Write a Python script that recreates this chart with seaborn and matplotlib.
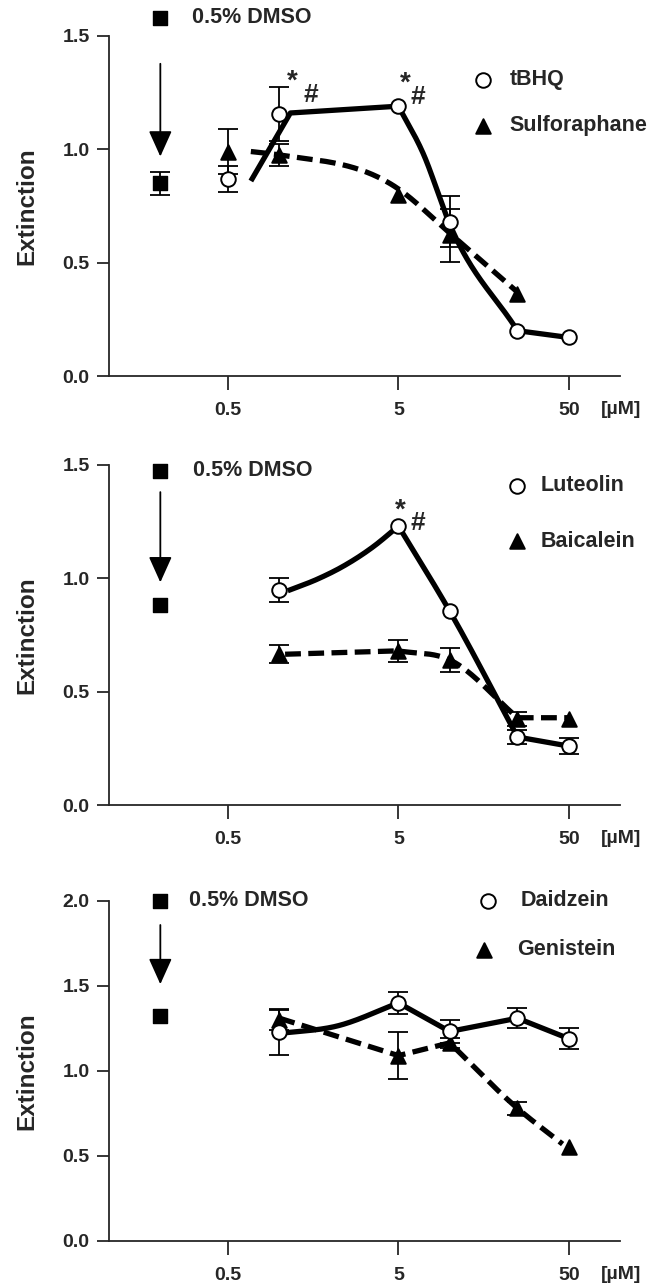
import numpy as np
import pandas as pd
import matplotlib
matplotlib.use("Agg")
import matplotlib.pyplot as plt
import seaborn as sns

# ---------------- data ----------------
conc = [0.5, 1, 5, 10, 25, 50]           # µM
conc5 = [1, 5, 10, 25, 50]
dmso_x = 0.2                             # position of the DMSO control

# panel 1
p1_dmso, p1_dmso_err = 0.85, 0.05
tbhq = [0.87, 1.155, 1.19, 0.68, 0.20, 0.17]
tbhq_err = [0.057, 0.12, 0.0, 0.112, 0.0, 0.0]
sulf_x = [0.5, 1, 5, 10, 25]
sulf = [0.99, 0.975, 0.80, 0.62, 0.36]
sulf_err = [0.10, 0.05, 0.0, 0.117, 0.0]
# fitted curves (knots)
tbhq_fit_x = [0.68, 1.16, 5, 7, 10, 25, 50]
tbhq_fit_y = [0.86, 1.16, 1.19, 0.98, 0.67, 0.20, 0.17]
tbhq_fit_breaks = [1, 2, 5]
sulf_fit_x = [0.68, 1, 5, 10, 25]
sulf_fit_y = [0.99, 0.975, 0.825, 0.63, 0.37]
sulf_fit_breaks = []

# panel 2
p2_dmso, p2_dmso_err = 0.88, 0.0
lut = [0.95, 1.23, 0.855, 0.30, 0.26]
lut_err = [0.053, 0.0, 0.0, 0.03, 0.034]
bai = [0.665, 0.68, 0.64, 0.38, 0.38]
bai_err = [0.04, 0.048, 0.052, 0.03, 0.0]
lut_fit_x = [1.12, 1.67, 2.37, 3.57, 5, 10, 25, 50]
lut_fit_y = [0.945, 0.996, 1.053, 1.14, 1.23, 0.855, 0.30, 0.26]
lut_fit_breaks = [4, 6]
bai_fit_x = [1.08, 5, 10, 25, 50]
bai_fit_y = [0.665, 0.68, 0.64, 0.385, 0.385]
bai_fit_breaks = [1, 3]

# panel 3
p3_dmso, p3_dmso_err = 1.324, 0.0
dai = [1.23, 1.40, 1.232, 1.31, 1.19]
dai_err = [0.135, 0.065, 0.07, 0.06, 0.06]
gen = [1.30, 1.09, 1.165, 0.78, 0.55]
gen_err = [0.06, 0.14, 0.03, 0.04, 0.0]
dai_fit_x = [1, 2.2, 5, 10, 25, 50]
dai_fit_y = [1.22, 1.265, 1.40, 1.232, 1.31, 1.19]
dai_fit_breaks = [2, 3, 4]
gen_fit_x = [1, 5, 10, 25, 46]
gen_fit_y = [1.31, 1.09, 1.165, 0.78, 0.57]
gen_fit_breaks = [1, 2]

xtick_vals = [0.5, 5, 50]
xtick_labels = ["0.5", "5", "50"]

# ---------------- helpers ----------------
def smooth(xk, yk, breaks, n=60):
    """Piecewise cubic Hermite through the knots (log-x), split at cusps."""
    lx = np.log10(np.asarray(xk, float))
    y = np.asarray(yk, float)
    idx = [0] + list(breaks) + [len(lx) - 1]
    outx, outy = [], []
    for a, b in zip(idx[:-1], idx[1:]):
        X, Y = lx[a:b + 1], y[a:b + 1]
        h = np.diff(X)
        s = np.diff(Y) / h
        m = np.empty(len(X))
        m[0], m[-1] = s[0], s[-1]
        for i in range(1, len(X) - 1):
            m[i] = (s[i] * h[i - 1] + s[i - 1] * h[i]) / (h[i - 1] + h[i])
        for i in range(len(X) - 1):
            t = np.linspace(0, 1, n)
            h00 = 2 * t**3 - 3 * t**2 + 1
            h10 = t**3 - 2 * t**2 + t
            h01 = -2 * t**3 + 3 * t**2
            h11 = t**3 - t**2
            yy = h00 * Y[i] + h10 * h[i] * m[i] + h01 * Y[i + 1] + h11 * h[i] * m[i + 1]
            outx.append(X[i] + t * h[i]); outy.append(yy)
    return 10 ** np.concatenate(outx), np.concatenate(outy)


sns.set_style("ticks")
plt.rcParams['font.family'] = ['Liberation Sans', 'DejaVu Sans']
plt.rcParams['font.weight'] = 'bold'

fig = plt.figure(figsize=(6.61, 12.86), dpi=100)
L, W, H = 0.165, 0.773, 0.2645
bottoms = [0.7076, 0.374, 0.035]

MS = 110     # marker area (pt^2)
LW_FIT = 3.8
TICK_FS = 14
LEG_FS = 15.5


def draw_curve(ax, xk, yk, br, dashed):
    cx, cy = smooth(xk, yk, br)
    df = pd.DataFrame({"x": cx, "y": cy})
    sns.lineplot(data=df, x="x", y="y", ax=ax, sort=False, estimator=None,
                 color="black", lw=LW_FIT, zorder=2,
                 linestyle=(0, (3.0, 1.4)) if dashed else "-",
                 solid_capstyle="butt", dash_capstyle="butt")


def draw_errors(ax, xs, ys, errs):
    sel = [(x, y, e) for x, y, e in zip(xs, ys, errs) if e > 0]
    if sel:
        ex, ey, ee = zip(*sel)
        ax.errorbar(ex, ey, yerr=ee, fmt="none", ecolor="black",
                    elinewidth=1.3, capsize=7, capthick=1.3, zorder=3)


def draw_points(ax, xs, ys, errs, marker, face):
    draw_errors(ax, xs, ys, errs)
    df = pd.DataFrame({"x": xs, "y": ys})
    sns.scatterplot(data=df, x="x", y="y", ax=ax, marker=marker, s=MS,
                    color=face, edgecolor="black", linewidth=1.4, zorder=4)


def setup(ax, ymax, yticks):
    ax.set_xscale("log")
    ax.set_xlim(0.1, 100)
    ax.set_ylim(0, ymax)
    ax.set_xticks(xtick_vals)
    ax.set_xticklabels(xtick_labels)
    ax.minorticks_off()
    ax.set_yticks(yticks)
    ax.set_yticklabels([f"{v:.1f}" for v in yticks])
    for s in ["top", "right"]:
        ax.spines[s].set_visible(False)
    for s in ["left", "bottom"]:
        ax.spines[s].set_linewidth(1.3)
    ax.tick_params(axis="x", length=10, width=1.3, pad=9, labelsize=TICK_FS)
    ax.tick_params(axis="y", length=9, width=1.3, pad=5, labelsize=TICK_FS)
    for lab in ax.get_xticklabels() + ax.get_yticklabels():
        lab.set_fontweight("bold")
    ax.set_xlabel("")
    ax.set_ylabel("Extinction", fontsize=17.5, fontweight="bold")
    ax.yaxis.set_label_coords(-0.139, 0.5)
    ax.text(0.963, -0.098, "[µM]", transform=ax.transAxes, ha="left",
            va="center", fontsize=TICK_FS, fontweight="bold")


def dmso_block(ax, leg_y, arrow_top, arrow_tip, text_x, val, err):
    ax.scatter([dmso_x], [leg_y], marker="s", s=115, color="black",
               zorder=5, clip_on=False)
    ax.text(text_x, leg_y, "0.5% DMSO", ha="left", va="center",
            fontsize=LEG_FS, fontweight="bold", clip_on=False)
    ax.annotate("", xy=(dmso_x, arrow_tip), xytext=(dmso_x, arrow_top),
                arrowprops=dict(arrowstyle="-|>,head_length=0.8,head_width=0.36",
                                mutation_scale=20, lw=1.3, color="black",
                                shrinkA=0, shrinkB=0), zorder=5)
    draw_errors(ax, [dmso_x], [val], [err])
    ax.scatter([dmso_x], [val], marker="s", s=115, color="black", zorder=4)


def legend_item(ax, x, y, tx, marker, face, label):
    ax.scatter([x], [y], marker=marker, s=MS, facecolor=face,
               edgecolor="black", linewidth=1.4, zorder=5, clip_on=False)
    ax.text(tx, y, label, ha="left", va="center", fontsize=LEG_FS,
            fontweight="bold")


def stars(ax, sx, sy, hx, hy):
    ax.text(sx, sy, "*", fontsize=20, fontweight="bold", ha="center", va="center")
    ax.text(hx, hy, "#", fontsize=19, fontweight="bold", ha="center", va="center")


# ---------------- panel 1 ----------------
ax1 = fig.add_axes([L, bottoms[0], W, H])
draw_curve(ax1, sulf_fit_x, sulf_fit_y, sulf_fit_breaks, True)
draw_curve(ax1, tbhq_fit_x, tbhq_fit_y, tbhq_fit_breaks, False)
draw_points(ax1, sulf_x, sulf, sulf_err, "^", "black")
draw_points(ax1, conc, tbhq, tbhq_err, "o", "white")
dmso_block(ax1, 1.58, 1.377, 0.968, 0.305, p1_dmso, p1_dmso_err)
legend_item(ax1, 15.6, 1.306, 22.5, "o", "white", "tBHQ")
legend_item(ax1, 15.6, 1.104, 22.5, "^", "black", "Sulforaphane")
stars(ax1, 1.19, 1.30, 1.52, 1.24)
stars(ax1, 5.5, 1.29, 6.5, 1.23)
setup(ax1, 1.5, [0.0, 0.5, 1.0, 1.5])

# ---------------- panel 2 ----------------
ax2 = fig.add_axes([L, bottoms[1], W, H])
draw_curve(ax2, bai_fit_x, bai_fit_y, bai_fit_breaks, True)
draw_curve(ax2, lut_fit_x, lut_fit_y, lut_fit_breaks, False)
draw_points(ax2, conc5, bai, bai_err, "^", "black")
draw_points(ax2, conc5, lut, lut_err, "o", "white")
dmso_block(ax2, 1.475, 1.38, 0.982, 0.31, p2_dmso, p2_dmso_err)
legend_item(ax2, 24.8, 1.407, 34.0, "o", "white", "Luteolin")
legend_item(ax2, 24.8, 1.164, 34.0, "^", "black", "Baicalein")
stars(ax2, 5.1, 1.30, 6.5, 1.245)
setup(ax2, 1.5, [0.0, 0.5, 1.0, 1.5])

# ---------------- panel 3 ----------------
ax3 = fig.add_axes([L, bottoms[2], W, H])
draw_curve(ax3, gen_fit_x, gen_fit_y, gen_fit_breaks, True)
draw_curve(ax3, dai_fit_x, dai_fit_y, dai_fit_breaks, False)
draw_points(ax3, conc5, gen, gen_err, "^", "black")
draw_points(ax3, conc5, dai, dai_err, "o", "white")
dmso_block(ax3, 2.0, 1.858, 1.51, 0.295, p3_dmso, p3_dmso_err)
legend_item(ax3, 16.7, 2.0, 26.0, "o", "white", "Daidzein")
legend_item(ax3, 16.0, 1.711, 25.0, "^", "black", "Genistein")
setup(ax3, 2.0, [0.0, 0.5, 1.0, 1.5, 2.0])

fig.savefig("out.png", dpi=100)
